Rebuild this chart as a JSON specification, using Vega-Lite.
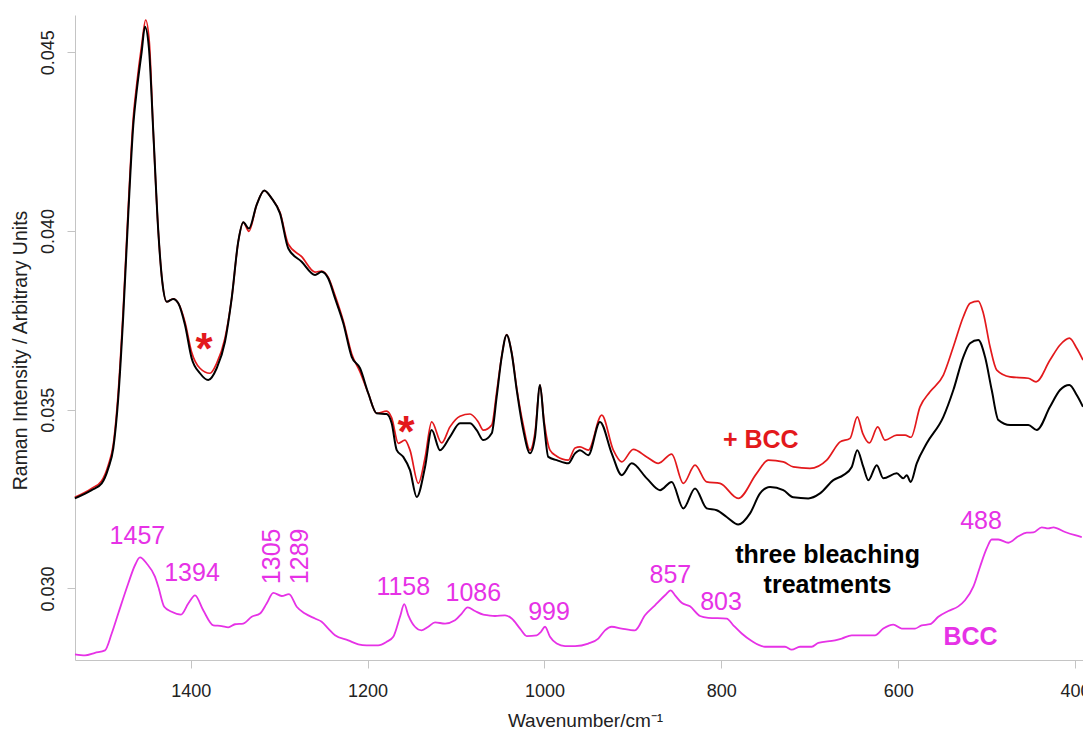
{
  "$schema": "https://vega.github.io/schema/vega-lite/v6.json",
  "width": 1008,
  "height": 645,
  "autosize": {"type": "none"},
  "padding": {"left": 75, "top": 15, "right": 0, "bottom": 73},
  "background": "white",
  "config": {"view": {"stroke": null}, "font": "Liberation Sans"},
  "datasets": {
    "bleach": [
      {"w":1531,"v":0.03252},{"w":1512,"v":0.03275},{"w":1500.6,"v":0.03294},{"w":1493.2,"v":0.03336},{"w":1487.5,"v":0.03392},{"w":1481.9,"v":0.03532},{"w":1476.2,"v":0.03765},{"w":1470.6,"v":0.04045},{"w":1464.9,"v":0.04296},{"w":1461.1,"v":0.04390},{"w":1455.4,"v":0.04501},{"w":1451.7,"v":0.04571},{"w":1447.2,"v":0.04511},{"w":1442.3,"v":0.04278},{"w":1436.6,"v":0.03998},{"w":1432.1,"v":0.03858},{"w":1427.1,"v":0.03802},{"w":1419.7,"v":0.03810},{"w":1414.0,"v":0.03798},{"w":1406.4,"v":0.03737},{"w":1398.9,"v":0.03644},{"w":1389.5,"v":0.03602},{"w":1380.1,"v":0.03583},{"w":1370.6,"v":0.03616},{"w":1361.2,"v":0.03690},{"w":1353.6,"v":0.03812},{"w":1346.2,"v":0.03970},{"w":1340.5,"v":0.04024},{"w":1334.1,"v":0.04007},{"w":1325.4,"v":0.04073},{"w":1316.8,"v":0.04113},{"w":1308.4,"v":0.04091},{"w":1299.0,"v":0.04049},{"w":1289.6,"v":0.03951},{"w":1274.5,"v":0.03914},{"w":1259.4,"v":0.03877},{"w":1251.9,"v":0.03886},{"w":1244.4,"v":0.03867},{"w":1236.8,"v":0.03812},{"w":1227.4,"v":0.03742},{"w":1217.9,"v":0.03648},{"w":1208.5,"v":0.03616},{"w":1199.2,"v":0.03546},{"w":1189.7,"v":0.03490},{"w":1178.4,"v":0.03488},{"w":1172.7,"v":0.03462},{"w":1167.0,"v":0.03387},{"w":1159.6,"v":0.03368},{"w":1152.0,"v":0.03331},{"w":1144.4,"v":0.03256},{"w":1135.0,"v":0.03340},{"w":1127.5,"v":0.03443},{"w":1118.1,"v":0.03387},{"w":1106.8,"v":0.03424},{"w":1095.5,"v":0.03462},{"w":1084.2,"v":0.03462},{"w":1076.6,"v":0.03443},{"w":1069.1,"v":0.03415},{"w":1059.6,"v":0.03434},{"w":1054.0,"v":0.03536},{"w":1048.3,"v":0.03648},{"w":1042.7,"v":0.03709},{"w":1037.0,"v":0.03658},{"w":1031.3,"v":0.03555},{"w":1023.9,"v":0.03443},{"w":1016.3,"v":0.03378},{"w":1010.6,"v":0.03424},{"w":1005.0,"v":0.03569},{"w":1000.5,"v":0.03462},{"w":995.6,"v":0.03368},{"w":986.1,"v":0.03359},{"w":973.0,"v":0.03350},{"w":965.4,"v":0.03378},{"w":959.8,"v":0.03387},{"w":950.4,"v":0.03373},{"w":937.2,"v":0.03466},{"w":923.9,"v":0.03378},{"w":912.6,"v":0.03317},{"w":901.3,"v":0.03350},{"w":884.3,"v":0.03308},{"w":869.3,"v":0.03275},{"w":856.1,"v":0.03298},{"w":842.9,"v":0.03224},{"w":829.7,"v":0.03280},{"w":816.5,"v":0.03224},{"w":805.2,"v":0.03219},{"w":793.9,"v":0.03200},{"w":780.8,"v":0.03179},{"w":767.5,"v":0.03210},{"w":756.2,"v":0.03266},{"w":744.9,"v":0.03284},{"w":729.9,"v":0.03275},{"w":718.6,"v":0.03255},{"w":701.6,"v":0.03252},{"w":688.4,"v":0.03266},{"w":673.3,"v":0.03303},{"w":662.0,"v":0.03317},{"w":652.5,"v":0.03340},{"w":646.2,"v":0.03387},{"w":639.4,"v":0.03340},{"w":633.7,"v":0.03303},{"w":624.2,"v":0.03345},{"w":616.8,"v":0.03308},{"w":601.6,"v":0.03322},{"w":594.2,"v":0.03308},{"w":590.3,"v":0.03317},{"w":585.8,"v":0.03298},{"w":579.0,"v":0.03350},{"w":567.7,"v":0.03406},{"w":548.9,"v":0.03480},{"w":537.6,"v":0.03555},{"w":526.3,"v":0.03648},{"w":518.7,"v":0.03686},{"w":509.4,"v":0.03695},{"w":501.8,"v":0.03648},{"w":494.2,"v":0.03555},{"w":486.7,"v":0.03471},{"w":473.5,"v":0.03457},{"w":452.8,"v":0.03457},{"w":443.3,"v":0.03443},{"w":428.3,"v":0.03508},{"w":417.0,"v":0.03555},{"w":406.4,"v":0.03569},{"w":398.1,"v":0.03541},{"w":391.0,"v":0.03508}
    ],
    "plus": [
      {"w":1531,"v":0.03255},{"w":1512,"v":0.03280},{"w":1501,"v":0.03300},{"w":1493.2,"v":0.03345},{"w":1487.5,"v":0.03403},{"w":1481.9,"v":0.03549},{"w":1476.2,"v":0.03784},{"w":1470.6,"v":0.04064},{"w":1464.9,"v":0.04316},{"w":1461.1,"v":0.04408},{"w":1455.4,"v":0.04520},{"w":1450.9,"v":0.04590},{"w":1446.8,"v":0.04529},{"w":1442.3,"v":0.04278},{"w":1436.6,"v":0.03998},{"w":1432.1,"v":0.03858},{"w":1427.1,"v":0.03802},{"w":1419.7,"v":0.03810},{"w":1414.0,"v":0.03798},{"w":1406.4,"v":0.03745},{"w":1398.9,"v":0.03661},{"w":1389.5,"v":0.03616},{"w":1378.2,"v":0.03602},{"w":1370.6,"v":0.03630},{"w":1361.2,"v":0.03700},{"w":1353.6,"v":0.03812},{"w":1346.2,"v":0.03970},{"w":1340.5,"v":0.04024},{"w":1334.1,"v":0.03999},{"w":1325.4,"v":0.04073},{"w":1316.8,"v":0.04113},{"w":1308.4,"v":0.04091},{"w":1299.0,"v":0.04052},{"w":1289.6,"v":0.03963},{"w":1274.5,"v":0.03928},{"w":1259.4,"v":0.03885},{"w":1251.9,"v":0.03888},{"w":1244.4,"v":0.03870},{"w":1236.8,"v":0.03820},{"w":1227.4,"v":0.03748},{"w":1217.9,"v":0.03656},{"w":1208.5,"v":0.03606},{"w":1199.2,"v":0.03546},{"w":1189.7,"v":0.03490},{"w":1178.4,"v":0.03496},{"w":1172.7,"v":0.03477},{"w":1165.2,"v":0.03406},{"w":1157.7,"v":0.03415},{"w":1152.0,"v":0.03387},{"w":1142.6,"v":0.03294},{"w":1135.0,"v":0.03365},{"w":1127.5,"v":0.03466},{"w":1116.2,"v":0.03407},{"w":1106.8,"v":0.03452},{"w":1095.5,"v":0.03482},{"w":1084.2,"v":0.03488},{"w":1074.8,"v":0.03466},{"w":1069.1,"v":0.03443},{"w":1059.6,"v":0.03457},{"w":1054.0,"v":0.03549},{"w":1048.3,"v":0.03650},{"w":1042.7,"v":0.03710},{"w":1037.0,"v":0.03660},{"w":1031.3,"v":0.03560},{"w":1023.9,"v":0.03457},{"w":1016.3,"v":0.03387},{"w":1010.6,"v":0.03437},{"w":1005.0,"v":0.03569},{"w":1000.5,"v":0.03471},{"w":993.7,"v":0.03387},{"w":986.1,"v":0.03370},{"w":973.0,"v":0.03359},{"w":965.4,"v":0.03393},{"w":959.8,"v":0.03396},{"w":950.4,"v":0.03387},{"w":935.2,"v":0.03485},{"w":922.1,"v":0.03387},{"w":912.6,"v":0.03354},{"w":899.5,"v":0.03389},{"w":884.3,"v":0.03368},{"w":871.2,"v":0.03350},{"w":856.1,"v":0.03376},{"w":842.9,"v":0.03294},{"w":829.7,"v":0.03345},{"w":816.5,"v":0.03298},{"w":801.4,"v":0.03294},{"w":780.8,"v":0.03252},{"w":760.0,"v":0.03322},{"w":746.8,"v":0.03359},{"w":729.9,"v":0.03354},{"w":718.6,"v":0.03340},{"w":699.7,"v":0.03336},{"w":680.8,"v":0.03359},{"w":665.7,"v":0.03410},{"w":654.4,"v":0.03420},{"w":646.2,"v":0.03480},{"w":640.1,"v":0.03434},{"w":632.6,"v":0.03407},{"w":623.1,"v":0.03452},{"w":614.9,"v":0.03415},{"w":601.6,"v":0.03429},{"w":592.2,"v":0.03429},{"w":585.5,"v":0.03423},{"w":575.3,"v":0.03508},{"w":564.0,"v":0.03550},{"w":548.9,"v":0.03597},{"w":537.6,"v":0.03676},{"w":526.3,"v":0.03760},{"w":518.7,"v":0.03798},{"w":509.4,"v":0.03804},{"w":503.7,"v":0.03770},{"w":496.1,"v":0.03676},{"w":488.5,"v":0.03611},{"w":473.5,"v":0.03592},{"w":452.8,"v":0.03588},{"w":444.1,"v":0.03578},{"w":428.3,"v":0.03639},{"w":417.0,"v":0.03681},{"w":406.4,"v":0.03700},{"w":398.1,"v":0.03672},{"w":391.0,"v":0.03639}
    ],
    "bcc": [
      {"w":1530.8,"v":0.02816},{"w":1519.5,"v":0.02813},{"w":1508.2,"v":0.02820},{"w":1496.9,"v":0.02827},{"w":1489.3,"v":0.02874},{"w":1481.9,"v":0.02930},{"w":1470.6,"v":0.03014},{"w":1463.0,"v":0.03065},{"w":1457.3,"v":0.03087},{"w":1449.8,"v":0.03070},{"w":1440.4,"v":0.03033},{"w":1436.6,"v":0.03005},{"w":1429.9,"v":0.02949},{"w":1421.5,"v":0.02935},{"w":1411.0,"v":0.02927},{"w":1402.7,"v":0.02958},{"w":1395.1,"v":0.02981},{"w":1385.8,"v":0.02939},{"w":1374.4,"v":0.02897},{"w":1364.9,"v":0.02895},{"w":1357.5,"v":0.02891},{"w":1349.9,"v":0.02900},{"w":1340.5,"v":0.02902},{"w":1331.0,"v":0.02921},{"w":1321.6,"v":0.02930},{"w":1314.1,"v":0.02958},{"w":1306.6,"v":0.02988},{"w":1297.1,"v":0.02979},{"w":1288.8,"v":0.02984},{"w":1280.1,"v":0.02949},{"w":1270.7,"v":0.02930},{"w":1259.4,"v":0.02916},{"w":1251.9,"v":0.02907},{"w":1244.4,"v":0.02888},{"w":1236.8,"v":0.02869},{"w":1221.8,"v":0.02855},{"w":1210.5,"v":0.02844},{"w":1201.0,"v":0.02841},{"w":1187.9,"v":0.02841},{"w":1178.4,"v":0.02851},{"w":1170.9,"v":0.02865},{"w":1163.3,"v":0.02921},{"w":1158.5,"v":0.02956},{"w":1153.9,"v":0.02925},{"w":1146.4,"v":0.02893},{"w":1138.8,"v":0.02883},{"w":1131.3,"v":0.02893},{"w":1123.7,"v":0.02905},{"w":1112.4,"v":0.02902},{"w":1101.1,"v":0.02911},{"w":1093.5,"v":0.02930},{"w":1086.8,"v":0.02947},{"w":1078.5,"v":0.02937},{"w":1069.1,"v":0.02927},{"w":1063.5,"v":0.02925},{"w":1055.9,"v":0.02923},{"w":1044.6,"v":0.02925},{"w":1037.0,"v":0.02916},{"w":1027.6,"v":0.02888},{"w":1020.0,"v":0.02867},{"w":1008.7,"v":0.02869},{"w":1003.9,"v":0.02879},{"w":999.3,"v":0.02893},{"w":993.7,"v":0.02865},{"w":986.1,"v":0.02846},{"w":976.7,"v":0.02839},{"w":965.4,"v":0.02839},{"w":950.4,"v":0.02846},{"w":939.1,"v":0.02860},{"w":931.5,"v":0.02883},{"w":923.9,"v":0.02893},{"w":912.6,"v":0.02888},{"w":897.6,"v":0.02883},{"w":886.3,"v":0.02925},{"w":875.0,"v":0.02953},{"w":863.6,"v":0.02981},{"w":857.2,"v":0.02995},{"w":852.3,"v":0.02981},{"w":844.8,"v":0.02960},{"w":835.4,"v":0.02950},{"w":824.1,"v":0.02923},{"w":814.7,"v":0.02918},{"w":793.9,"v":0.02916},{"w":786.4,"v":0.02897},{"w":776.9,"v":0.02874},{"w":765.6,"v":0.02853},{"w":750.6,"v":0.02837},{"w":727.9,"v":0.02837},{"w":720.4,"v":0.02829},{"w":711.0,"v":0.02837},{"w":697.8,"v":0.02837},{"w":690.3,"v":0.02848},{"w":671.4,"v":0.02855},{"w":663.8,"v":0.02860},{"w":652.5,"v":0.02869},{"w":641.2,"v":0.02869},{"w":626.2,"v":0.02869},{"w":616.8,"v":0.02888},{"w":605.5,"v":0.02899},{"w":596.0,"v":0.02888},{"w":580.9,"v":0.02888},{"w":573.4,"v":0.02897},{"w":564.0,"v":0.02900},{"w":554.6,"v":0.02921},{"w":543.3,"v":0.02937},{"w":532.0,"v":0.02950},{"w":524.4,"v":0.02967},{"w":515.0,"v":0.03005},{"w":507.4,"v":0.03061},{"w":499.9,"v":0.03112},{"w":494.2,"v":0.03137},{"w":486.7,"v":0.03137},{"w":475.4,"v":0.03128},{"w":464.1,"v":0.03146},{"w":454.6,"v":0.03156},{"w":447.1,"v":0.03157},{"w":437.6,"v":0.03171},{"w":430.2,"v":0.03168},{"w":424.5,"v":0.03171},{"w":411.3,"v":0.03158},{"w":400.0,"v":0.03149},{"w":392.4,"v":0.03144}
    ],
    "peakLabels": [
      {"label":"1457","w":1460.2,"v":0.03148},
      {"label":"1394","w":1398.5,"v":0.03044},
      {"label":"1158","w":1159.6,"v":0.03005},
      {"label":"1086","w":1080.4,"v":0.02988},
      {"label":"999","w":994.8,"v":0.02935},
      {"label":"857","w":857.6,"v":0.03039},
      {"label":"803","w":800.3,"v":0.02963},
      {"label":"488","w":506.3,"v":0.03190}
    ],
    "peakLabelsV": [
      {"label":"1305","w":1308.3,"v":0.03090},
      {"label":"1289","w":1275.9,"v":0.03090}
    ],
    "bccName": [{"label":"BCC","w":518.2,"v":0.02865}],
    "plusName": [{"label":"+ BCC","w":755.3,"v":0.03416}],
    "treatName": [
      {"label":"three bleaching","w":679.9,"v":0.03094},
      {"label":"treatments","w":679.9,"v":0.03010}
    ],
    "stars": [
      {"label":"*","w":1385.0,"v":0.03628},
      {"label":"*","w":1156.5,"v":0.03397}
    ]
  },
  "encoding": {
    "x": {
      "field": "w", "type": "quantitative",
      "scale": {"domain": [391, 1530.8], "reverse": true, "nice": false, "zero": false},
      "axis": {
        "values": [1400, 1200, 1000, 800, 600, 400],
        "format": "d",
        "grid": false,
        "labelFontSize": 18, "labelColor": "#222222", "labelPadding": 14, "labelFlush": false, "labelOverlap": false,
        "tickSize": 8, "tickColor": "#c4c4c4", "domainColor": "#c4c4c4", "domainWidth": 1,
        "title": "Wavenumber/cm⁻¹", "titleFontSize": 19, "titleFontWeight": "normal", "titleColor": "#222222",
        "titleX": 510, "titleY": 66.7, "titleBaseline": "alphabetic", "titleAlign": "center"
      }
    },
    "y": {
      "field": "v", "type": "quantitative",
      "scale": {"domain": [0.028, 0.04604], "nice": false, "zero": false},
      "axis": {
        "values": [0.030, 0.035, 0.040, 0.045],
        "format": ".3f",
        "grid": false,
        "labelFontSize": 18, "labelColor": "#222222", "labelAngle": -90, "labelAlign": "center", "labelBaseline": "bottom", "labelPadding": 10,
        "tickSize": 8, "tickColor": "#c4c4c4", "domainColor": "#c4c4c4", "domainWidth": 1,
        "title": "Raman Intensity / Arbitrary Units", "titleFontSize": 19.5, "titleFontWeight": "normal", "titleColor": "#222222",
        "titleAngle": -90, "titleX": -48.3, "titleY": 335, "titleBaseline": "alphabetic", "titleAlign": "center"
      }
    }
  },
  "layer": [
    {
      "data": {"name": "plus"},
      "mark": {"type": "line", "color": "#e3191c", "strokeWidth": 1.7, "interpolate": "monotone"}
    },
    {
      "data": {"name": "bleach"},
      "mark": {"type": "line", "color": "#000000", "strokeWidth": 2, "interpolate": "monotone"}
    },
    {
      "data": {"name": "bcc"},
      "mark": {"type": "line", "color": "#e632e6", "strokeWidth": 1.8, "interpolate": "monotone"}
    },
    {
      "data": {"values": [{}]},
      "mark": {"type": "rule", "color": "#c4c4c4", "strokeWidth": 1},
      "encoding": {
        "x": {"datum": 391, "type": "quantitative"},
        "x2": {"datum": 1530.8},
        "y": {"datum": 0.04604, "type": "quantitative"}
      }
    },
    {
      "data": {"name": "peakLabels"},
      "mark": {"type": "text", "color": "#e632e6", "fontSize": 25, "font": "Liberation Sans", "align": "center", "baseline": "middle"},
      "encoding": {"text": {"field": "label"}}
    },
    {
      "data": {"name": "peakLabelsV"},
      "mark": {"type": "text", "color": "#e632e6", "fontSize": 25, "font": "Liberation Sans", "align": "center", "baseline": "middle", "angle": 270},
      "encoding": {"text": {"field": "label"}}
    },
    {
      "data": {"name": "bccName"},
      "mark": {"type": "text", "color": "#e632e6", "fontSize": 25, "fontWeight": "bold", "font": "Liberation Sans", "align": "center", "baseline": "middle"},
      "encoding": {"text": {"field": "label"}}
    },
    {
      "data": {"name": "plusName"},
      "mark": {"type": "text", "color": "#e3191c", "fontSize": 25, "fontWeight": "bold", "font": "Liberation Sans", "align": "center", "baseline": "middle"},
      "encoding": {"text": {"field": "label"}}
    },
    {
      "data": {"name": "treatName"},
      "mark": {"type": "text", "color": "#000000", "fontSize": 25, "fontWeight": "bold", "font": "Liberation Sans", "align": "center", "baseline": "middle"},
      "encoding": {"text": {"field": "label"}}
    },
    {
      "data": {"name": "stars"},
      "mark": {"type": "text", "color": "#e3191c", "fontSize": 44, "fontWeight": "bold", "font": "Liberation Sans", "align": "center", "baseline": "alphabetic"},
      "encoding": {"text": {"field": "label"}}
    }
  ]
}
